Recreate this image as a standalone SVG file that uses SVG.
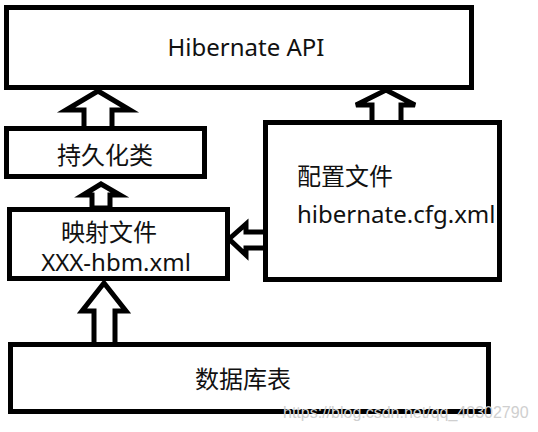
<svg xmlns="http://www.w3.org/2000/svg" width="538" height="432" viewBox="0 0 538 432">
<style>
.box{fill:#fff;stroke:#000;stroke-width:5}
.arr{fill:#fff;stroke:#000;stroke-width:5;stroke-linejoin:miter}
.t{font-family:"Noto Sans","Noto Sans CJK SC",sans-serif;fill:#111;font-size:24px}
.wm{font-family:"Liberation Sans",sans-serif;font-size:16px;fill:#cfcfcf}
</style>
<rect width="538" height="432" fill="#fff"/>
<g id="connectors">
<polygon class="arr" points="98,91 130,110 112,110 112,129 84,129 84,110 66,110"/>
<polygon class="arr" points="386,90 415,105 401,105 401,123 372,123 372,105 356,105"/>
<polygon class="arr" points="101,184 120,195 110,195 110,208 92,208 92,195 83,195"/>
<polygon class="arr" points="104,283 126,311 115,311 115,345 94,345 94,311 82,311"/>
<polygon class="arr" points="229,239 246,224 246,232 266,232 266,248 246,248 246,255"/>
</g>
<g id="node-api">
<rect class="box" x="6.5" y="7.5" width="465" height="80"/>
<text class="t" x="246" y="56" text-anchor="middle">Hibernate API</text>
</g>
<g id="node-persist">
<rect class="box" x="6.5" y="128.5" width="198" height="48"/>
<text class="t" x="105" y="164" text-anchor="middle">持久化类</text>
</g>
<g id="node-config">
<rect class="box" x="265.5" y="122.5" width="234" height="157"/>
<text class="t" x="297" y="185">配置文件</text>
<text class="t" x="297" y="223">hibernate.cfg.xml</text>
</g>
<g id="node-mapping">
<rect class="box" x="9.5" y="209.5" width="218" height="69"/>
<text class="t" x="109" y="241" text-anchor="middle">映射文件</text>
<text class="t" x="116" y="271" text-anchor="middle">XXX-hbm.xml</text>
</g>
<g id="node-db">
<rect class="box" x="10.5" y="344.5" width="478" height="67"/>
<text class="t" x="243" y="388" text-anchor="middle">数据库表</text>
</g>
<text class="wm" x="283" y="418">https://blog.csdn.net/qq_40302790</text>
</svg>
